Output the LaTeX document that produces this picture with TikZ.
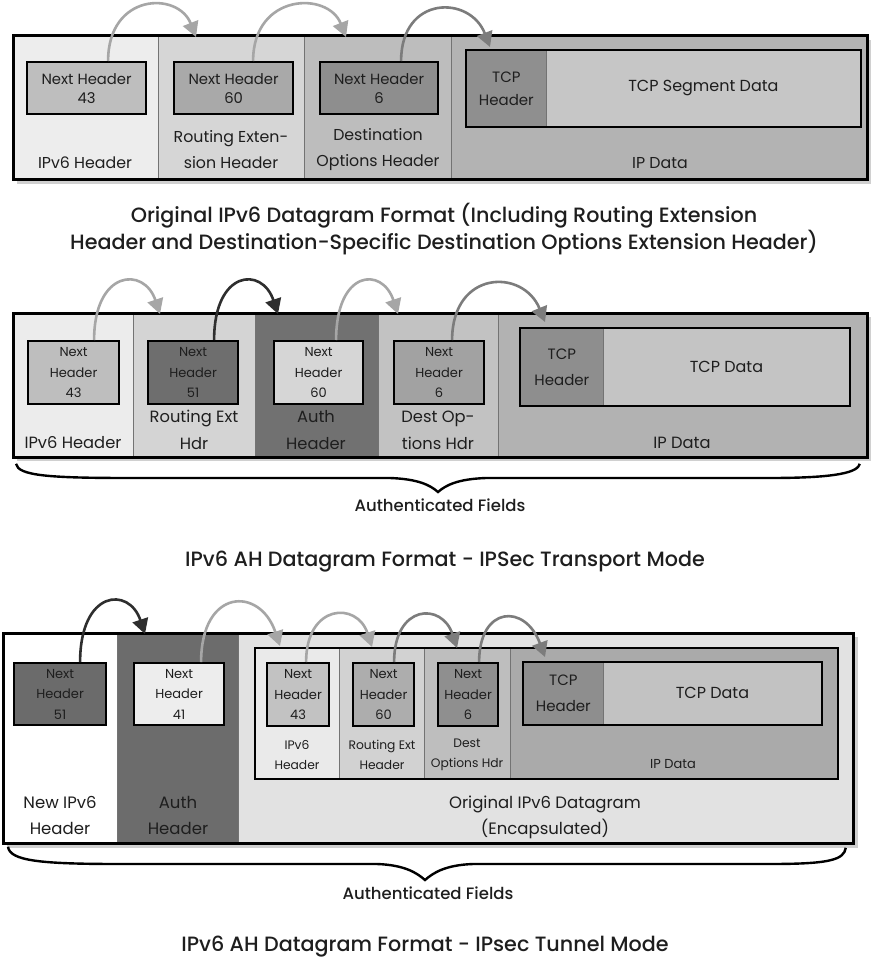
\documentclass[tikz,border=0pt]{standalone}
\usepackage{fontspec}
\setmainfont{Poppins}
\newfontfamily\titlefont{Poppins}[UprightFont=* Medium]
\usetikzlibrary{arrows.meta,calc}
\definecolor{txt}{HTML}{1E1E1E}
\definecolor{shadowc}{HTML}{D0D0D0}
\definecolor{arrlight}{HTML}{A6A6A6}
\definecolor{arrmid}{HTML}{7C7C7C}
\definecolor{arrdark}{HTML}{2E2E2E}
\newcommand\fLab{\fontsize{15.8}{26}\selectfont}
\newcommand\fLabB{\fontsize{16.3}{27}\selectfont}
\newcommand\fLabC{\fontsize{16.5}{26}\selectfont}
\newcommand\fNH{\fontsize{14.8}{19}\selectfont}
\newcommand\fTCP{\fontsize{15}{23}\selectfont}
\newcommand\fTCPb{\fontsize{15}{26}\selectfont}
\newcommand\fTCPd{\fontsize{16}{20}\selectfont}
\newcommand\fNHs{\fontsize{13}{20.5}\selectfont}
\newcommand\fSm{\fontsize{12.3}{19.5}\selectfont}
\newcommand\fSmIP{\fontsize{13}{19.5}\selectfont}
\newcommand\fTitle{\titlefont\fontsize{20.7}{27}\selectfont}
\newcommand\fAuth{\titlefont\fontsize{16.5}{18}\selectfont}
% \cellbox[style]{name}{x1}{y1}{x2}{y2}{text}
\newcommand\cellbox[7][]{\node[#1,minimum width={(#5-#3)*1pt},minimum height={(#6-#4)*1pt}] (#2) at (#3,#4) {#7};}
\tikzset{
  cell/.style={draw=black!55,line width=0.8pt,inner sep=0pt,anchor=north west,text=txt,align=center},
  nhbox/.style={draw=black,line width=2.2pt,inner sep=0pt,anchor=north west,text=txt,align=center},
  frame/.style={draw=black,line width=3pt},
  inframe/.style={draw=black,line width=2.5pt},
  shadowbox/.style={fill=shadowc,draw=none},
  lbl/.style={inner sep=0pt,align=center,text=txt},
  arr/.style={line width=2.6pt,-{Triangle[length=15pt,width=16pt]}},
  bracec/.style={line width=2.4pt,black},
}
\begin{document}
\begin{tikzpicture}[x=1pt,y=-1pt]
\useasboundingbox (0,0) rectangle (873,960);
\fill[white] (0,0) rectangle (873,960);
%================ Section 1 ================
\fill[shadowbox] (17,40) rectangle (871,184);
\cellbox[cell,fill={rgb,255:red,237;green,237;blue,237}]{A1}{13}{36}{158}{179}{}
\cellbox[cell,fill={rgb,255:red,214;green,214;blue,214}]{A2}{158}{36}{304}{179}{}
\cellbox[cell,fill={rgb,255:red,189;green,189;blue,189}]{A3}{304}{36}{451}{179}{}
\cellbox[cell,fill={rgb,255:red,179;green,179;blue,179}]{A4}{451}{36}{867}{179}{}
\draw[frame] (A1.north west) rectangle (A4.south east);
\cellbox[nhbox,fill={rgb,255:red,190;green,190;blue,190},font=\fNH]{N11}{26}{61}{145}{113}{Next Header\\43}
\cellbox[nhbox,fill={rgb,255:red,169;green,169;blue,169},font=\fNH]{N12}{173}{61}{292}{113}{Next Header\\60}
\cellbox[nhbox,fill={rgb,255:red,142;green,142;blue,142},font=\fNH]{N13}{319}{61}{437}{113}{Next Header\\6}
\cellbox[cell,fill={rgb,255:red,143;green,143;blue,143},font=\fTCP]{T1h}{466}{50}{546}{126}{TCP\\Header}
\cellbox[cell,fill={rgb,255:red,198;green,198;blue,198},font=\fTCPd]{T1d}{546}{50}{860}{126}{TCP Segment Data}
\draw[inframe] (T1h.north west) rectangle (T1d.south east);
\node[lbl,font=\fLab] (L11) at (85,163) {IPv6 Header};
\node[lbl,font=\fLab] (L12) at (231,150) {Routing Exten-\\sion Header};
\node[lbl,font=\fLab] (L13) at (378,150) {Destination\\Options Header};
\node[lbl,font=\fLab] (L14) at (660,163) {IP Data};
\coordinate (t11) at (196,37);
\coordinate (t12) at (346,37);
\coordinate (t13) at (490,47);
\coordinate (s11) at ([xshift=21.5pt]N11.north);
\coordinate (s12) at ([xshift=19.5pt]N12.north);
\coordinate (s13) at ([xshift=22pt]N13.north);
\draw[arr,arrlight] (s11) .. controls ($(s11)+(0,-68)$) and ($(t11)+(-18,-46)$) .. (t11);
\draw[arr,arrlight] (s12) .. controls ($(s12)+(0,-68)$) and ($(t12)+(-18,-46)$) .. (t12);
\draw[arr,arrmid] (s13) .. controls ($(s13)+(0,-66)$) and ($(t13)+(-20,-52)$) .. (t13);
\node[lbl,font=\fTitle] (title1) at (444,229) {Original IPv6 Datagram Format (Including Routing Extension\\Header and Destination-Specific Destination Options Extension Header)};
%================ Section 2 ================
\fill[shadowbox] (17,317) rectangle (871,461);
\cellbox[cell,fill={rgb,255:red,236;green,236;blue,236}]{B1}{13}{313}{133}{457}{}
\cellbox[cell,fill={rgb,255:red,212;green,212;blue,212}]{B2}{133}{313}{255}{457}{}
\cellbox[cell,fill={rgb,255:red,113;green,113;blue,113}]{B3}{255}{313}{378}{457}{}
\cellbox[cell,fill={rgb,255:red,194;green,194;blue,194}]{B4}{378}{313}{498}{457}{}
\cellbox[cell,fill={rgb,255:red,178;green,178;blue,178}]{B5}{498}{313}{867}{457}{}
\draw[frame] (B1.north west) rectangle (B5.south east);
\cellbox[nhbox,fill={rgb,255:red,190;green,190;blue,190},font=\fNHs]{N21}{27}{340}{118}{403}{Next\\Header\\43}
\cellbox[nhbox,fill={rgb,255:red,110;green,110;blue,110},font=\fNHs]{N22}{147}{340}{237}{403}{Next\\Header\\51}
\cellbox[nhbox,fill={rgb,255:red,214;green,214;blue,214},font=\fNHs]{N23}{273}{340}{362}{403}{Next\\Header\\60}
\cellbox[nhbox,fill={rgb,255:red,162;green,162;blue,162},font=\fNHs]{N24}{393}{340}{483}{403}{Next\\Header\\6}
\cellbox[cell,fill={rgb,255:red,142;green,142;blue,142},font=\fTCPb]{T2h}{520}{328}{603}{405}{TCP\\Header}
\cellbox[cell,fill={rgb,255:red,196;green,196;blue,196},font=\fTCPd]{T2d}{603}{328}{849}{405}{TCP Data}
\draw[inframe] (T2h.north west) rectangle (T2d.south east);
\node[lbl,font=\fLabB] (L21) at (73,443) {IPv6 Header};
\node[lbl,font=\fLabB] (L22) at (194,430) {Routing Ext\\Hdr};
\node[lbl,font=\fLabB] (L23) at (316,430) {Auth\\Header};
\node[lbl,font=\fLabB] (L24) at (438,430) {Dest Op-\\tions Hdr};
\node[lbl,font=\fLabB] (L25) at (682,443) {IP Data};
\coordinate (t21) at (160,314);
\coordinate (t22) at (278,314);
\coordinate (t23) at (398,314);
\coordinate (t24) at (545,322);
\coordinate (s21) at ([xshift=20.5pt]N21.north);
\coordinate (s22) at ([xshift=21pt]N22.north);
\coordinate (s23) at ([xshift=17.5pt]N23.north);
\coordinate (s24) at ([xshift=13pt]N24.north);
\draw[arr,arrlight] (s21) .. controls ($(s21)+(0,-70)$) and ($(t21)+(-16,-48)$) .. (t21);
\draw[arr,arrdark] (s22) .. controls ($(s22)+(0,-70)$) and ($(t22)+(-16,-48)$) .. (t22);
\draw[arr,arrlight] (s23) .. controls ($(s23)+(0,-70)$) and ($(t23)+(-16,-48)$) .. (t23);
\draw[arr,arrmid] (s24) .. controls ($(s24)+(0,-70)$) and ($(t24)+(-22,-54)$) .. (t24);
% brace 2
\coordinate (b2L) at ([xshift=3pt,yshift=-6pt]B1.south west);
\coordinate (b2R) at ([xshift=-8pt,yshift=-6pt]B5.south east);
\coordinate (b2M) at (438,492);
\draw[bracec] (b2L) .. controls ($(b2L)+(2,12)$) and (50,478) .. (130,478)
  -- (390,478) .. controls (418,479) and (430,485) .. (b2M)
  .. controls (446,485) and (458,479) .. (486,478)
  -- (770,478) .. controls (840,478) and ($(b2R)+(-2,8)$) .. (b2R);
\node[lbl,font=\fAuth] (auth2) at (440,505) {Authenticated Fields};
\node[lbl,font=\fTitle] (title2) at (445,562) {IPv6 AH Datagram Format - IPSec Transport Mode};
%================ Section 3 ================
\fill[shadowbox] (7,637) rectangle (858,848);
\cellbox[cell,fill=white]{C1}{3}{633}{117}{843}{}
\cellbox[cell,fill={rgb,255:red,108;green,108;blue,108}]{C2}{117}{633}{238}{843}{}
\cellbox[cell,fill={rgb,255:red,226;green,226;blue,226}]{C3}{238}{633}{853}{843}{}
\draw[frame] (C1.north west) rectangle (C3.south east);
\cellbox[nhbox,fill={rgb,255:red,107;green,107;blue,107},font=\fNHs]{N31}{13}{662}{105}{724}{Next\\Header\\51}
\cellbox[nhbox,fill={rgb,255:red,237;green,237;blue,237},font=\fNHs]{N32}{133}{662}{223}{724}{Next\\Header\\41}
\cellbox[cell,fill={rgb,255:red,234;green,234;blue,234}]{D1}{255}{648}{339}{778}{}
\cellbox[cell,fill={rgb,255:red,210;green,210;blue,210}]{D2}{339}{648}{424}{778}{}
\cellbox[cell,fill={rgb,255:red,190;green,190;blue,190}]{D3}{424}{648}{510}{778}{}
\cellbox[cell,fill={rgb,255:red,170;green,170;blue,170}]{D4}{510}{648}{837}{778}{}
\draw[inframe] (D1.north west) rectangle (D4.south east);
\cellbox[nhbox,fill={rgb,255:red,194;green,194;blue,194},font=\fNHs]{N33}{266}{662}{328}{725}{Next\\Header\\43}
\cellbox[nhbox,fill={rgb,255:red,173;green,173;blue,173},font=\fNHs]{N34}{352}{662}{413}{725}{Next\\Header\\60}
\cellbox[nhbox,fill={rgb,255:red,143;green,143;blue,143},font=\fNHs]{N35}{437}{662}{497}{725}{Next\\Header\\6}
\cellbox[cell,fill={rgb,255:red,142;green,142;blue,142},font=\fTCPb]{T3h}{523}{662}{603}{724}{TCP\\Header}
\cellbox[cell,fill={rgb,255:red,194;green,194;blue,194},font=\fTCPd]{T3d}{603}{662}{821}{724}{TCP Data}
\draw[inframe] (T3h.north west) rectangle (T3d.south east);
\node[lbl,font=\fLabC] (L31) at (60,815) {New IPv6\\Header};
\node[lbl,font=\fLabC] (L32) at (178,815) {Auth\\Header};
\node[lbl,font=\fSm] (L33) at (297,755) {IPv6\\Header};
\node[lbl,font=\fSm] (L34) at (382,755) {Routing Ext\\Header};
\node[lbl,font=\fSm] (L35) at (467,755) {Dest\\Options Hdr};
\node[lbl,font=\fSmIP] (L36) at (673,764) {IP Data};
\node[lbl,font=\fLabC] (L37) at (545,817) {Original IPv6 Datagram\\(Encapsulated)};
\coordinate (t31) at (145,634);
\coordinate (t32) at (280,646);
\coordinate (t33) at (372,647);
\coordinate (t34) at (457,648);
\coordinate (t35) at (545,657);
\coordinate (s31) at ([xshift=20pt]N31.north);
\coordinate (s32) at ([xshift=22pt]N32.north);
\coordinate (s33) at ([xshift=8pt]N33.north);
\coordinate (s34) at ([xshift=10.5pt]N34.north);
\coordinate (s35) at ([xshift=11pt]N35.north);
\draw[arr,arrdark] (s31) .. controls ($(s31)+(0,-72)$) and ($(t31)+(-16,-48)$) .. (t31);
\draw[arr,arrlight] (s32) .. controls ($(s32)+(0,-74)$) and ($(t32)+(-20,-60)$) .. (t32);
\draw[arr,arrlight] (s33) .. controls ($(s33)+(0,-58)$) and ($(t33)+(-15,-46)$) .. (t33);
\draw[arr,arrmid] (s34) .. controls ($(s34)+(0,-58)$) and ($(t34)+(-15,-46)$) .. (t34);
\draw[arr,arrmid] (s35) .. controls ($(s35)+(0,-56)$) and ($(t35)+(-20,-54)$) .. (t35);
% brace 3
\coordinate (b3L) at ([xshift=5pt,yshift=-3pt]C1.south west);
\coordinate (b3R) at ([xshift=-8pt,yshift=-4pt]C3.south east);
\coordinate (b3M) at (425,880);
\draw[bracec] (b3L) .. controls ($(b3L)+(2,14)$) and (40,864) .. (120,864)
  -- (377,864) .. controls (405,865) and (417,873) .. (b3M)
  .. controls (433,873) and (445,865) .. (473,864)
  -- (770,864) .. controls (830,864) and ($(b3R)+(-2,12)$) .. (b3R);
\node[lbl,font=\fAuth] (auth3) at (428,893) {Authenticated Fields};
\node[lbl,font=\fTitle] (title3) at (425,947) {IPv6 AH Datagram Format - IPsec Tunnel Mode};
\end{tikzpicture}
\end{document}
